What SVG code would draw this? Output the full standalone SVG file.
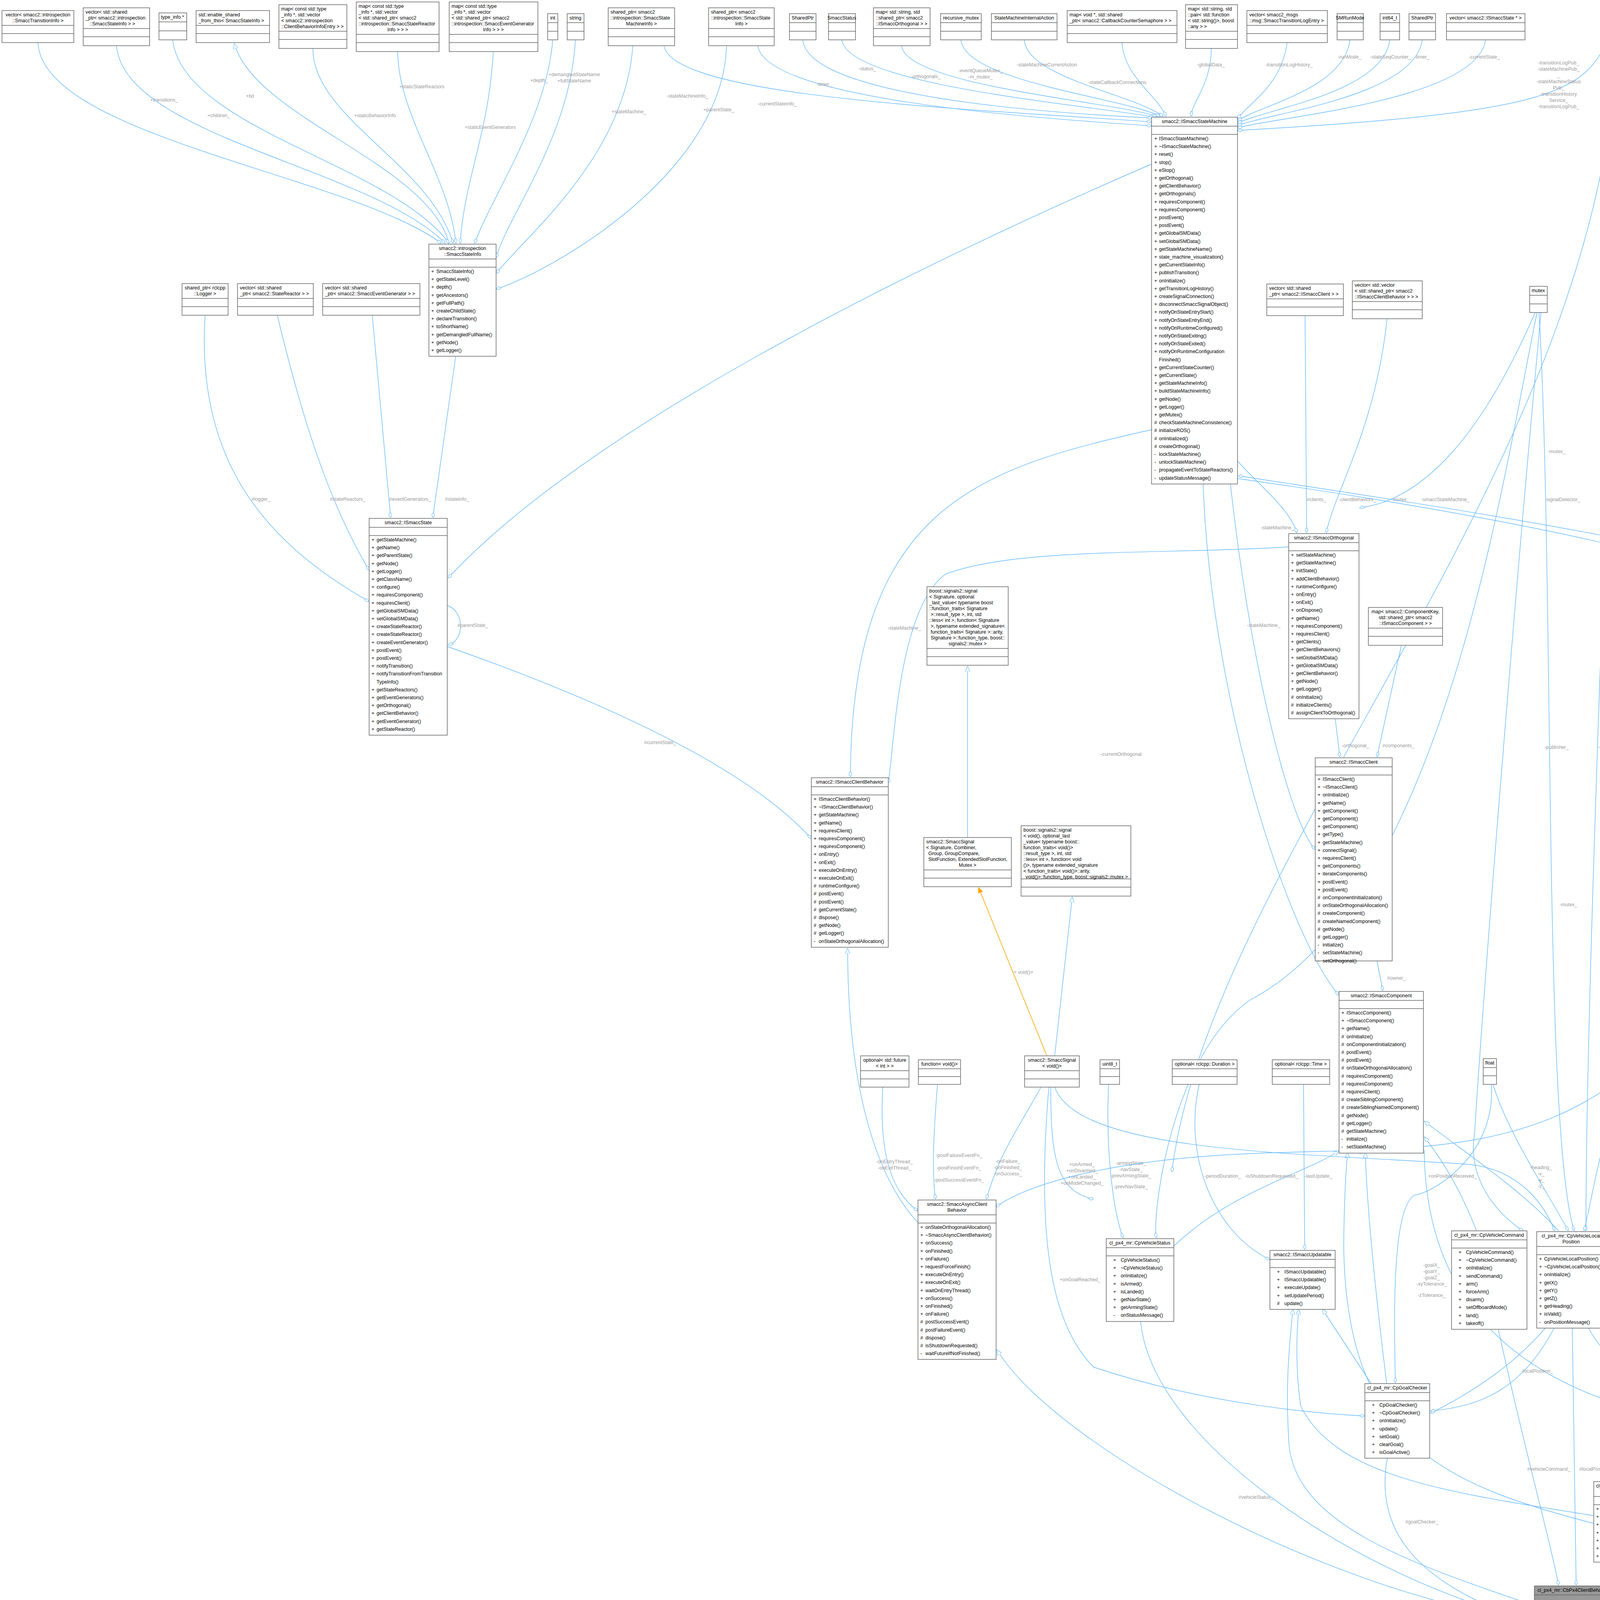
<svg xmlns="http://www.w3.org/2000/svg" width="6017" height="4253" viewBox="0 0 6017 4253">
<style>
.b{fill:#fff;stroke:#666;stroke-width:1.5}
.g{fill:#999;stroke:#666;stroke-width:1.5}
.s{fill:none;stroke:#666;stroke-width:1.5}
.t{font-family:"Liberation Sans",Arial,sans-serif;font-size:12.5px;fill:#000}
.c{text-anchor:middle}
.l{font-family:"Liberation Sans",Arial,sans-serif;font-size:12.5px;fill:#9a9a9a;text-anchor:middle}
.e{fill:none;stroke:#63b8ff;stroke-width:1.4}
.o{fill:none;stroke:#ffa500;stroke-width:1.6}
</style>
<defs>
<marker id="d" viewBox="0 0 14 8" refX="14" refY="4" markerWidth="14" markerHeight="8" markerUnits="userSpaceOnUse" orient="auto"><path d="M0,4L7,0L14,4L7,8Z" fill="#fff" stroke="#63b8ff" stroke-width="1.2"/></marker>
<marker id="t" viewBox="0 0 14 12" refX="14" refY="6" markerWidth="14" markerHeight="12" markerUnits="userSpaceOnUse" orient="auto"><path d="M0,0L14,6L0,12Z" fill="#fff" stroke="#63b8ff" stroke-width="1.2"/></marker>
<marker id="to" viewBox="0 0 14 12" refX="14" refY="6" markerWidth="14" markerHeight="12" markerUnits="userSpaceOnUse" orient="auto"><path d="M0,0L14,6L0,12Z" fill="#ffa500" stroke="#ffa500" stroke-width="1.2"/></marker>
</defs>
<rect width="6017" height="4253" fill="#fff"/>

<g id="connectors">
<!-- inheritance -->
<path class="e" marker-end="url(#t)" d="M1150,625C1100,420 650,300 600,111"/>
<path class="e" marker-end="url(#t)" d="M2477,2144L2477,1705"/>
<path class="o" marker-end="url(#to)" d="M2680,2703L2505,2272"/>
<text class="l" x="2620" y="2493">&lt; void()&gt;</text>
<path class="e" marker-end="url(#t)" d="M2700,2703L2745,2296"/>
<path class="e" marker-end="url(#t)" d="M2350,3130C2230,3000 2170,2750 2170,2427"/>
<path class="e" marker-end="url(#t)" d="M3928,4150C3400,4080 2700,3700 2552,3455"/>
<path class="e" marker-end="url(#t)" d="M3005,3190C3150,3050 3350,3000 3428,2946"/>
<path class="e" marker-end="url(#t)" d="M3780,3151C3740,3050 3700,2980 3646,2910"/>
<path class="e" marker-end="url(#t)" d="M3990,3151C3900,3050 3750,2950 3646,2870"/>
<path class="e" marker-end="url(#t)" d="M3550,3542C3520,3300 3500,3100 3495,2950"/>
<path class="e" marker-end="url(#t)" d="M4320,3640C3900,3560 3650,3350 3646,2945C3600,2940 3500,2945 3470,2950"/>
<path class="e" marker-end="url(#t)" d="M4080,3900C3700,3800 3450,3700 3440,3200 3440,3100 3445,3000 3450,2950"/>
<path class="e" marker-end="url(#t)" d="M3510,3542L3385,3351"/>
<path class="e" marker-end="url(#t)" d="M4080,3880C3700,3820 3420,3780 3330,3600 3315,3500 3320,3400 3325,3351"/>
<path class="e" marker-end="url(#t)" d="M3928,4110C3600,4000 3320,3900 3300,3700 3290,3550 3300,3450 3310,3351"/>

<!-- SmaccStateInfo members -->
<path class="e" marker-end="url(#d)" d="M97,109C110,350 900,450 1130,623"/>
<text class="l" x="420" y="260">+transitions_</text>
<path class="e" marker-end="url(#d)" d="M298,117C320,350 950,430 1140,623"/>
<text class="l" x="560" y="300">+children_</text>
<path class="e" marker-end="url(#d)" d="M442,102C470,330 1000,420 1150,623"/>
<text class="l" x="640" y="250">+tid</text>
<path class="e" marker-end="url(#d)" d="M801,124C800,300 1100,420 1160,623"/>
<text class="l" x="960" y="300">+staticBehaviorInfo</text>
<path class="e" marker-end="url(#d)" d="M1018,132C1020,300 1150,450 1167,623"/>
<text class="l" x="1080" y="226">+staticStateReactors</text>
<path class="e" marker-end="url(#d)" d="M1263,132C1250,350 1190,450 1178,623"/>
<text class="l" x="1255" y="330">+staticEventGenerators</text>
<path class="e" marker-end="url(#d)" d="M1415,102C1400,300 1260,500 1215,623"/>
<text class="l" x="1380" y="210">+depth_</text>
<path class="e" marker-end="url(#d)" d="M1473,102C1460,350 1300,550 1270,660"/>
<text class="l" x="1470" y="195">+demangledStateName</text>
<text class="l" x="1470" y="211">+fullStateName</text>
<path class="e" marker-end="url(#d)" d="M1620,117C1600,400 1350,600 1270,700"/>
<text class="l" x="1610" y="290">+stateMachine_</text>
<path class="e" marker-end="url(#d)" d="M1860,117C1850,450 1400,700 1270,740"/>
<text class="l" x="1840" y="285">+parentState_</text>

<!-- ISmaccState members -->
<path class="e" marker-end="url(#d)" d="M525,807C500,1200 700,1400 945,1540"/>
<text class="l" x="668" y="1282">#logger_</text>
<path class="e" marker-end="url(#d)" d="M710,807C780,1100 850,1300 945,1460"/>
<text class="l" x="890" y="1282">#stateReactors_</text>
<path class="e" marker-end="url(#d)" d="M953,807L1000,1325"/>
<text class="l" x="1050" y="1282">#eventGenerators_</text>
<path class="e" marker-end="url(#d)" d="M1167,909L1108,1325"/>
<text class="l" x="1170" y="1282">#stateInfo_</text>
<path class="e" marker-end="url(#d)" d="M1145,1550C1190,1565 1190,1640 1147,1651"/>
<text class="l" x="1210" y="1605">#parentState_</text>
<path class="e" marker-end="url(#d)" d="M2948,420C2300,700 1500,1100 1147,1480"/>
<path class="e" marker-end="url(#d)" d="M1145,1655C1500,1780 1900,1950 2077,2147"/>
<text class="l" x="1690" y="1905">#currentState_</text>

<!-- SM incoming -->
<path class="e" marker-end="url(#d)" d="M1700,117C1720,250 2500,280 2948,312"/>
<text class="l" x="1760" y="250">-stateMachineInfo_</text>
<path class="e" marker-end="url(#d)" d="M1940,117C1960,250 2600,300 2948,322"/>
<text class="l" x="1990" y="270">-currentStateInfo_</text>
<path class="e" marker-end="url(#d)" d="M2055,102C2070,250 2700,290 2950,302"/>
<text class="l" x="2110" y="220">-timer_</text>
<path class="e" marker-end="url(#d)" d="M2155,102C2170,220 2800,270 2955,300"/>
<text class="l" x="2220" y="180">-status_</text>
<path class="e" marker-end="url(#d)" d="M2308,117C2320,220 2850,260 2962,298"/>
<text class="l" x="2370" y="200">-orthogonals_</text>
<path class="e" marker-end="url(#d)" d="M2460,102C2470,210 2880,250 2970,298"/>
<text class="l" x="2510" y="185">-eventQueueMutex_</text>
<text class="l" x="2510" y="201">-m_mutex_</text>
<path class="e" marker-end="url(#d)" d="M2622,102C2630,200 2900,240 2978,298"/>
<text class="l" x="2680" y="170">-stateMachineCurrentAction</text>
<path class="e" marker-end="url(#d)" d="M2872,109C2880,200 2960,240 2985,298"/>
<text class="l" x="2860" y="215">-stateCallbackConnections</text>
<path class="e" marker-end="url(#d)" d="M3101,124C3100,220 3050,260 3050,298"/>
<text class="l" x="3100" y="170">-globalData_</text>
<path class="e" marker-end="url(#d)" d="M3295,109C3280,220 3200,260 3168,304"/>
<text class="l" x="3300" y="170">-transitionLogHistory_</text>
<path class="e" marker-end="url(#d)" d="M3456,102C3440,230 3220,270 3168,310"/>
<text class="l" x="3455" y="150">-runMode_</text>
<path class="e" marker-end="url(#d)" d="M3558,102C3540,240 3230,280 3168,316"/>
<text class="l" x="3560" y="150">-stateSeqCounter_</text>
<path class="e" marker-end="url(#d)" d="M3641,102C3620,250 3240,290 3168,322"/>
<text class="l" x="3640" y="150">-timer_</text>
<path class="e" marker-end="url(#d)" d="M3803,102C3780,260 3250,300 3168,328"/>
<text class="l" x="3800" y="150">-currentState_</text>
<path class="e" marker-end="url(#d)" d="M4112,110C4050,240 3950,290 3168,334"/>
<text class="l" x="3990" y="165">-transitionLogPub_</text>
<text class="l" x="3990" y="181">-stateMachinePub_</text>
<text class="l" x="3990" y="197">_</text>
<text class="l" x="3990" y="213">-stateMachineStatus</text>
<text class="l" x="3990" y="229">Pub_</text>
<text class="l" x="3990" y="245">-transitionHistory</text>
<text class="l" x="3990" y="261">Service_</text>
<text class="l" x="3990" y="277">-transitionLogPub_</text>

<!-- SM outgoing -->
<path class="e" marker-end="url(#d)" d="M2948,1100C2500,1200 2180,1300 2177,1989"/>
<text class="l" x="2315" y="1612">-stateMachine_</text>
<path class="e" marker-end="url(#d)" d="M3168,1180C3230,1250 3300,1300 3320,1364"/>
<text class="l" x="3270" y="1355">-stateMachine_</text>
<path class="e" marker-end="url(#d)" d="M3299,1400C3000,1420 2600,1400 2420,1470 2300,1560 2290,1900 2274,2005"/>
<text class="l" x="2870" y="1935">-currentOrthogonal</text>
<path class="e" marker-end="url(#d)" d="M3341,808L3345,1364"/>
<text class="l" x="3370" y="1283">#clients_</text>
<path class="e" marker-end="url(#d)" d="M3551,816C3520,1100 3420,1250 3395,1364"/>
<text class="l" x="3475" y="1283">-clientBehaviors_</text>
<path class="e" marker-end="url(#d)" d="M3930,800C3800,1100 3650,1280 3480,1300 3460,1330 3462,1364"/>
<text class="l" x="3585" y="1283">-mutex_</text>
<path class="e" marker-end="url(#d)" d="M3168,1225C3700,1300 4400,1420 4719,1590"/>
<text class="l" x="3700" y="1283">-smaccStateMachine_</text>
<path class="e" marker-end="url(#d)" d="M4719,1530C4400,1400 3700,1300 3170,1218"/>
<text class="l" x="4000" y="1283">-signalDetector_</text>
<path class="e" marker-end="url(#d)" d="M3418,1838L3430,1938"/>
<text class="l" x="3470" y="1913">-orthogonal_</text>
<path class="e" marker-end="url(#d)" d="M3588,1650L3525,1938"/>
<text class="l" x="3580" y="1913">#components_</text>
<path class="e" marker-end="url(#d)" d="M3150,1239C3200,1700 3300,2100 3367,2175"/>
<text class="l" x="3235" y="1605">-stateMachine_</text>
<path class="e" marker-end="url(#d)" d="M3525,2460L3540,2536"/>
<text class="l" x="3575" y="2508">#owner_</text>
<path class="e" marker-end="url(#d)" d="M3080,1239C3100,1800 3300,2400 3428,2548"/>

<!-- SignalDetector members -->
<path class="e" marker-end="url(#d)" d="M4425,808C4380,1100 4400,1350 4500,1320 4600,1290 4650,1350 4720,1405"/>
<text class="l" x="4580" y="1285">-updatableStateElements_</text>
<path class="e" marker-end="url(#d)" d="M4616,800C4620,1100 4680,1300 4735,1405"/>
<text class="l" x="4710" y="1285">-lastState_</text>
<path class="e" marker-end="url(#d)" d="M4720,800C4730,1100 4760,1300 4775,1405"/>
<text class="l" x="4800" y="1285">-loop_rate_hz</text>
<path class="e" marker-end="url(#d)" d="M4838,800L4840,1405"/>
<text class="l" x="4880" y="1285">-scheduler_</text>
<path class="e" marker-end="url(#d)" d="M4150,102C4600,200 4920,500 4900,1405"/>
<text class="l" x="4990" y="770">-statusPub_</text>
<path class="e" marker-end="url(#d)" d="M5112,800C5100,1200 4960,1240 4940,1405"/>
<text class="l" x="5055" y="1285">-processorHandle_</text>
<path class="e" marker-end="url(#d)" d="M5220,800C5230,1100 5200,1250 5180,1270 5070,1400 4968,1460"/>
<text class="l" x="5220" y="1285">-signalDetectorThread_</text>
<path class="e" marker-end="url(#d)" d="M5320,800C5350,1100 5300,1450 4968,1550"/>
<text class="l" x="5355" y="1285">-executionModel_</text>
<path class="e" marker-end="url(#d)" d="M5505,800C5500,1200 5300,1450 4968,1560"/>
<text class="l" x="5490" y="1285">-updatableClients_</text>
<path class="e" marker-end="url(#d)" d="M5695,800C5710,1100 5660,1220 5620,1250 5400,1350 5100,1530 4968,1568"/>
<text class="l" x="5630" y="1268">-end_</text>
<text class="l" x="5630" y="1284">-initialized_</text>
<text class="l" x="5630" y="1300">-rosInitialized_</text>
<path class="e" marker-end="url(#d)" d="M5690,800L5690,3800C5690,3950 4400,4100 4159,4135"/>

<!-- signals and async -->
<path class="e" marker-end="url(#d)" d="M2665,2783C2600,2900 2560,2950 2525,3070"/>
<text class="l" x="2580" y="2977">-onFailure_</text>
<text class="l" x="2580" y="2993">-onFinished_</text>
<text class="l" x="2580" y="3009">-onSuccess_</text>
<path class="e" marker-end="url(#d)" d="M2690,2783C2690,2950 2700,3050 2800,3070 2840,3100 2855,3169"/>
<text class="l" x="2770" y="2985">+onArmed_</text>
<text class="l" x="2770" y="3001">+onDisarmed_</text>
<text class="l" x="2770" y="3017">+onLanded_</text>
<text class="l" x="2770" y="3033">+onModeChanged_</text>
<path class="e" marker-end="url(#d)" d="M2685,2783C2650,3200 2700,3400 2800,3500 3100,3600 3400,3620 3494,3625"/>
<text class="l" x="2765" y="3280">+onGoalReached_</text>
<path class="e" marker-end="url(#d)" d="M2700,2783C2760,2950 3300,2950 3750,2980 3900,2990 3960,3100 3980,3151"/>
<text class="l" x="3718" y="3015">+onPositionReceived_</text>
<path class="e" marker-end="url(#d)" d="M2260,2783C2250,2950 2280,3050 2350,3100"/>
<text class="l" x="2290" y="2978">-onEntryThread_</text>
<text class="l" x="2290" y="2994">-onExitThread_</text>
<path class="e" marker-end="url(#d)" d="M2400,2776C2390,2900 2385,3000 2395,3070"/>
<text class="l" x="2455" y="2962">-postFailureEventFn_</text>
<text class="l" x="2455" y="2994">-postFinishEventFn_</text>
<text class="l" x="2455" y="3025">-postSuccessEventFn_</text>
<path class="e" marker-end="url(#d)" d="M2838,2776C2830,2950 2850,3100 2875,3169"/>
<text class="l" x="2895" y="2982">-armingState_</text>
<text class="l" x="2895" y="2998">-navState_</text>
<text class="l" x="2895" y="3014">-prevArmingState_</text>
<text class="l" x="2895" y="3042">-prevNavState_</text>
<path class="e" marker-end="url(#d)" d="M3070,2776C3030,2950 3100,3150 3251,3225"/>
<text class="l" x="3130" y="3015">-periodDuration_</text>
<path class="e" marker-end="url(#d)" d="M3337,2776L3340,3199"/>
<text class="l" x="3375" y="3015">-lastUpdate_</text>
<text class="l" x="3255" y="3015">-isShutdownRequested_</text>
<path class="e" marker-end="url(#d)" d="M4142,2765C3900,2950 3600,2940 3300,2950 2800,2960 2600,3050 2550,3090"/>

<!-- px4 components -->
<path class="e" marker-end="url(#d)" d="M3945,800C3880,1500 3800,2500 3775,2900 3750,3050 3880,3140 3900,3151"/>
<text class="l" x="3985" y="1917">-publisher_</text>
<path class="e" marker-end="url(#d)" d="M4140,102C4100,1200 3100,2200 3000,3000 2990,3100 3005,3185"/>
<path class="e" marker-end="url(#d)" d="M4148,102C4120,1200 4060,2500 4060,3151"/>
<text class="l" x="4125" y="1917">-subscriber_</text>
<path class="e" marker-end="url(#d)" d="M4160,102C4300,1500 4550,3000 4518,3555"/>
<text class="l" x="4500" y="2800">-publisher_</text>
<path class="e" marker-end="url(#d)" d="M3935,800C3850,1200 3700,2300 3200,2560 3000,2700 2950,3100 2960,3169"/>
<text class="l" x="3985" y="1160">-mutex_</text>
<path class="e" marker-end="url(#d)" d="M3940,800C3980,1500 3950,2900 4030,3151"/>
<text class="l" x="4015" y="2320">-mutex_</text>
<path class="e" marker-end="url(#d)" d="M4158,2776C4100,2900 4080,3050 4055,3151"/>
<text class="l" x="4120" y="3011">-valid_</text>
<path class="e" marker-end="url(#d)" d="M4170,2776C4250,3100 4350,3350 4200,3450 4150,3500 4160,3700 4160,3791"/>
<text class="l" x="4190" y="3510">-enabled_</text>
<path class="e" marker-end="url(#d)" d="M4150,2776C4150,3200 4000,3450 3662,3618"/>
<text class="l" x="4195" y="3277">-goalActive_</text>
<path class="e" marker-end="url(#d)" d="M4175,2770C4400,3000 4450,3300 4450,3540"/>
<text class="l" x="4510" y="3277">-hasPublished_</text>
<path class="e" marker-end="url(#d)" d="M3822,2776C3860,2900 3960,3050 4015,3151"/>
<text class="l" x="3945" y="2993">-heading_</text>
<text class="l" x="3945" y="3009">-x_</text>
<text class="l" x="3945" y="3025">-y_</text>
<text class="l" x="3945" y="3041">-z_</text>
<path class="e" marker-end="url(#d)" d="M3818,2776C3830,2950 3680,3050 3620,3060 3560,3100 3570,3400 3572,3540"/>
<text class="l" x="3665" y="3243">-goalX_</text>
<text class="l" x="3665" y="3259">-goalY_</text>
<text class="l" x="3665" y="3275">-goalZ_</text>
<text class="l" x="3665" y="3291">-xyTolerance_</text>
<text class="l" x="3665" y="3320">-zTolerance_</text>
<path class="e" marker-end="url(#d)" d="M4362,3309L4373,3540"/>
<text class="l" x="4412" y="3514">-lastSetpoint_</text>
<path class="e" marker-end="url(#d)" d="M3980,3397C3900,3550 3800,3600 3662,3612"/>
<text class="l" x="3935" y="3514">-localPosition_</text>
<path class="e" marker-end="url(#d)" d="M4065,3397C4120,3500 4200,3520 4250,3530 4300,3550 4320,3560"/>
<text class="l" x="4290" y="3514">-localPosition_</text>
<path class="e" marker-end="url(#d)" d="M4325,3730L4252,3805"/>
<text class="l" x="4365" y="3765">-trajectorySetpoint_</text>
<path class="e" marker-end="url(#d)" d="M3835,3400C3900,3700 3970,3950 3990,4058"/>
<text class="l" x="3965" y="3765">#vehicleCommand_</text>
<path class="e" marker-end="url(#d)" d="M4025,3397L4035,4058"/>
<text class="l" x="4085" y="3765">#localPosition_</text>
<path class="e" marker-end="url(#d)" d="M4425,3730C4400,3900 4300,4000 4159,4090"/>
<text class="l" x="4475" y="3900">#trajectorySetpoint_</text>
<path class="e" marker-end="url(#d)" d="M3552,3730C3520,3900 3600,4050 3928,4155"/>
<text class="l" x="3640" y="3900">#goalChecker_</text>
<path class="e" marker-end="url(#d)" d="M2920,3383C2950,3700 3500,4050 3928,4150"/>
<text class="l" x="3215" y="3837">#vehicleStatus_</text>
<path class="e" marker-end="url(#d)" d="M4120,3999L4100,4058"/>
<text class="l" x="4185" y="4030">#offboardKeepAlive_</text>
<path class="e" marker-end="url(#d)" d="M5795,3941C5780,4100 4500,4150 4159,4160"/>
<text class="l" x="5745" y="4040">-timeout_</text>
<path class="e" marker-end="url(#d)" d="M5947,3952C5930,4150 4500,4170 4159,4168"/>
<text class="l" x="5900" y="4040">-startTime_</text>
</g>

<!-- top row -->
<g id="n_transinfo"><rect class="b" x="5" y="27" width="184" height="82"/><path class="s" d="M5,65H189M5,86H189"/><text class="t c" x="97" y="42">vector&lt; smacc2::introspection<tspan x="97" dy="15">::SmaccTransitionInfo &gt;</tspan></text></g>
<g id="n_children"><rect class="b" x="213" y="20" width="170" height="97"/><path class="s" d="M213,73H383M213,94H383"/><text class="t" x="219" y="35">vector&lt; std::shared<tspan x="219" dy="15">_ptr&lt; smacc2::introspection</tspan><tspan x="229" dy="15">::SmaccStateInfo &gt; &gt;</tspan></text></g>
<g id="n_typeinfo"><rect class="b" x="407" y="33" width="71" height="69"/><path class="s" d="M407,56H478M407,79H478"/><text class="t" x="412" y="48">type_info *</text></g>
<g id="n_enable"><rect class="b" x="502" y="27" width="188" height="82"/><path class="s" d="M502,65H690M502,86H690"/><text class="t" x="508" y="42">std::enable_shared<tspan x="508" dy="15">_from_this&lt; SmaccStateInfo &gt;</tspan></text></g>
<g id="n_mapcb"><rect class="b" x="714" y="12" width="174" height="112"/><path class="s" d="M714,80H888M714,101H888"/><text class="t" x="720" y="27">map&lt; const std::type<tspan x="720" dy="15">_info *, std::vector</tspan><tspan x="720" dy="15">&lt; smacc2::introspection</tspan><tspan x="720" dy="15">::ClientBehaviorInfoEntry &gt; &gt;</tspan></text></g>
<g id="n_mapsr"><rect class="b" x="912" y="5" width="212" height="127"/><path class="s" d="M912,88H1124M912,109H1124"/><text class="t" x="918" y="20">map&lt; const std::type<tspan x="918" dy="15">_info *, std::vector</tspan><tspan x="918" dy="15">&lt; std::shared_ptr&lt; smacc2</tspan><tspan x="918" dy="15">::introspection::SmaccStateReactor</tspan><tspan x="1018" dy="15" text-anchor="middle">Info &gt; &gt; &gt;</tspan></text></g>
<g id="n_mapeg"><rect class="b" x="1150" y="5" width="227" height="127"/><path class="s" d="M1150,88H1377M1150,109H1377"/><text class="t" x="1156" y="20">map&lt; const std::type<tspan x="1156" dy="15">_info *, std::vector</tspan><tspan x="1156" dy="15">&lt; std::shared_ptr&lt; smacc2</tspan><tspan x="1156" dy="15">::introspection::SmaccEventGenerator</tspan><tspan x="1263" dy="15" text-anchor="middle">Info &gt; &gt; &gt;</tspan></text></g>
<g id="n_int"><rect class="b" x="1402" y="35" width="26" height="67"/><path class="s" d="M1402,58H1428M1402,80H1428"/><text class="t c" x="1415" y="50">int</text></g>
<g id="n_string"><rect class="b" x="1452" y="35" width="43" height="67"/><path class="s" d="M1452,58H1495M1452,80H1495"/><text class="t c" x="1473" y="50">string</text></g>
<g id="n_smi"><rect class="b" x="1557" y="20" width="170" height="97"/><path class="s" d="M1557,73H1727M1557,94H1727"/><text class="t" x="1563" y="35">shared_ptr&lt; smacc2<tspan x="1563" dy="15">::introspection::SmaccState</tspan><tspan x="1642" dy="15" text-anchor="middle">MachineInfo &gt;</tspan></text></g>
<g id="n_ssi"><rect class="b" x="1814" y="20" width="168" height="97"/><path class="s" d="M1814,73H1982M1814,94H1982"/><text class="t" x="1820" y="35">shared_ptr&lt; smacc2<tspan x="1820" dy="15">::introspection::SmaccState</tspan><tspan x="1898" dy="15" text-anchor="middle">Info &gt;</tspan></text></g>
<g id="n_sp1"><rect class="b" x="2021" y="35" width="68" height="67"/><path class="s" d="M2021,58H2089M2021,80H2089"/><text class="t c" x="2055" y="50">SharedPtr</text></g>
<g id="n_status"><rect class="b" x="2121" y="35" width="69" height="67"/><path class="s" d="M2121,58H2190M2121,80H2190"/><text class="t c" x="2155" y="50">SmaccStatus</text></g>
<g id="n_maporth"><rect class="b" x="2236" y="20" width="145" height="97"/><path class="s" d="M2236,73H2381M2236,94H2381"/><text class="t" x="2242" y="35">map&lt; std::string, std<tspan x="2242" dy="15">::shared_ptr&lt; smacc2</tspan><tspan x="2242" dy="15">::ISmaccOrthogonal &gt; &gt;</tspan></text></g>
<g id="n_rmutex"><rect class="b" x="2408" y="35" width="104" height="67"/><path class="s" d="M2408,58H2512M2408,80H2512"/><text class="t c" x="2460" y="50">recursive_mutex</text></g>
<g id="n_action"><rect class="b" x="2538" y="35" width="168" height="67"/><path class="s" d="M2538,58H2706M2538,80H2706"/><text class="t c" x="2622" y="50">StateMachineInternalAction</text></g>
<g id="n_mapcc"><rect class="b" x="2732" y="27" width="281" height="82"/><path class="s" d="M2732,65H3013M2732,86H3013"/><text class="t" x="2738" y="42">map&lt; void *, std::shared<tspan x="2738" dy="15">_ptr&lt; smacc2::CallbackCounterSemaphore &gt; &gt;</tspan></text></g>
<g id="n_mapgd"><rect class="b" x="3035" y="12" width="133" height="112"/><path class="s" d="M3035,80H3168M3035,101H3168"/><text class="t" x="3041" y="27">map&lt; std::string, std<tspan x="3041" dy="15">::pair&lt; std::function</tspan><tspan x="3041" dy="15">&lt; std::string()&gt;, boost</tspan><tspan x="3041" dy="15">::any &gt; &gt;</tspan></text></g>
<g id="n_vlog"><rect class="b" x="3192" y="27" width="206" height="82"/><path class="s" d="M3192,65H3398M3192,86H3398"/><text class="t" x="3198" y="42">vector&lt; smacc2_msgs<tspan x="3198" dy="15">::msg::SmaccTransitionLogEntry &gt;</tspan></text></g>
<g id="n_runmode"><rect class="b" x="3423" y="35" width="67" height="67"/><path class="s" d="M3423,58H3490M3423,80H3490"/><text class="t c" x="3456" y="50">SMRunMode</text></g>
<g id="n_int64"><rect class="b" x="3533" y="35" width="50" height="67"/><path class="s" d="M3533,58H3583M3533,80H3583"/><text class="t c" x="3558" y="50">int64_t</text></g>
<g id="n_sp2"><rect class="b" x="3607" y="35" width="68" height="67"/><path class="s" d="M3607,58H3675M3607,80H3675"/><text class="t c" x="3641" y="50">SharedPtr</text></g>
<g id="n_vstate"><rect class="b" x="3703" y="35" width="201" height="67"/><path class="s" d="M3703,58H3904M3703,80H3904"/><text class="t c" x="3803" y="50">vector&lt; smacc2::ISmaccState * &gt;</text></g>
<g id="n_sp3"><rect class="b" x="4112" y="34" width="69" height="68"/><path class="s" d="M4112,57H4181M4112,80H4181"/><text class="t c" x="4146" y="49">SharedPtr</text></g>

<!-- second row -->
<g id="n_logger"><rect class="b" x="466" y="726" width="118" height="81"/><path class="s" d="M466,764H584M466,785H584"/><text class="t c" x="525" y="741">shared_ptr&lt; rclcpp<tspan x="525" dy="15">::Logger &gt;</tspan></text></g>
<g id="n_vsr"><rect class="b" x="608" y="726" width="194" height="81"/><path class="s" d="M608,764H802M608,785H802"/><text class="t" x="614" y="741">vector&lt; std::shared<tspan x="614" dy="15">_ptr&lt; smacc2::StateReactor &gt; &gt;</tspan></text></g>
<g id="n_veg"><rect class="b" x="826" y="726" width="249" height="81"/><path class="s" d="M826,764H1075M826,785H1075"/><text class="t" x="832" y="741">vector&lt; std::shared<tspan x="832" dy="15">_ptr&lt; smacc2::SmaccEventGenerator &gt; &gt;</tspan></text></g>
<g id="n_vclients"><rect class="b" x="3243" y="727" width="196" height="81"/><path class="s" d="M3243,765H3439M3243,786H3439"/><text class="t" x="3249" y="742">vector&lt; std::shared<tspan x="3249" dy="15">_ptr&lt; smacc2::ISmaccClient &gt; &gt;</tspan></text></g>
<g id="n_vcb"><rect class="b" x="3462" y="719" width="179" height="97"/><path class="s" d="M3462,772H3641M3462,793H3641"/><text class="t" x="3468" y="734">vector&lt; std::vector<tspan x="3468" dy="15">&lt; std::shared_ptr&lt; smacc2</tspan><tspan x="3468" dy="15">::ISmaccClientBehavior &gt; &gt; &gt;</tspan></text></g>
<g id="n_mutex"><rect class="b" x="3916" y="733" width="45" height="67"/><path class="s" d="M3916,756H3961M3916,778H3961"/><text class="t c" x="3938" y="748">mutex</text></g>
<g id="n_vvupd"><rect class="b" x="4330" y="726" width="207" height="82"/><path class="s" d="M4330,764H4537M4330,785H4537"/><text class="t" x="4336" y="741">vector&lt; std::vector<tspan x="4336" dy="15">&lt; smacc2::ISmaccUpdatable * &gt; &gt;</tspan></text></g>
<g id="n_ai64"><rect class="b" x="4560" y="734" width="111" height="66"/><path class="s" d="M4560,757H4671M4560,778H4671"/><text class="t c" x="4615" y="749">atomic&lt; int64_t &gt;</text></g>
<g id="n_double"><rect class="b" x="4695" y="734" width="49" height="66"/><path class="s" d="M4695,757H4744M4695,778H4744"/><text class="t c" x="4720" y="749">double</text></g>
<g id="n_fifo"><rect class="b" x="4769" y="734" width="139" height="66"/><path class="s" d="M4769,757H4908M4769,778H4908"/><text class="t c" x="4838" y="749">SmaccFifoScheduler *</text></g>
<g id="n_proc"><rect class="b" x="5053" y="734" width="112" height="66"/><path class="s" d="M5053,757H5165M5053,778H5165"/><text class="t c" x="5109" y="749">processor_handle</text></g>
<g id="n_thread"><rect class="b" x="5190" y="734" width="47" height="66"/><path class="s" d="M5190,757H5237M5190,778H5237"/><text class="t c" x="5213" y="749">thread</text></g>
<g id="n_exec"><rect class="b" x="5261" y="734" width="102" height="66"/><path class="s" d="M5261,757H5363M5261,778H5363"/><text class="t c" x="5312" y="749">ExecutionModel</text></g>
<g id="n_vupd"><rect class="b" x="5386" y="734" width="233" height="66"/><path class="s" d="M5386,757H5619M5386,778H5619"/><text class="t c" x="5502" y="749">vector&lt; smacc2::ISmaccUpdatable * &gt;</text></g>
<g id="n_abool"><rect class="b" x="5643" y="734" width="95" height="66"/><path class="s" d="M5643,757H5738M5643,778H5738"/><text class="t c" x="5690" y="749">atomic&lt; bool &gt;</text></g>

<!-- SmaccStateInfo -->
<g id="n_stateinfo"><rect class="b" x="1098" y="625" width="172" height="287"/><path class="s" d="M1098,663H1270M1098,684H1270"/><text class="t c" x="1184" y="640">smacc2::introspection<tspan x="1184" dy="15">::SmaccStateInfo</tspan></text>
<text class="t" x="1104" y="699">+<tspan x="1104" dy="20.2">+</tspan><tspan x="1104" dy="20.2">+</tspan><tspan x="1104" dy="20.2">+</tspan><tspan x="1104" dy="20.2">+</tspan><tspan x="1104" dy="20.2">+</tspan><tspan x="1104" dy="20.2">+</tspan><tspan x="1104" dy="20.2">+</tspan><tspan x="1104" dy="20.2">+</tspan><tspan x="1104" dy="20.2">+</tspan><tspan x="1104" dy="20.2">+</tspan></text>
<text class="t" x="1117" y="699">SmaccStateInfo()<tspan x="1117" dy="20.2">getStateLevel()</tspan><tspan x="1117" dy="20.2">depth()</tspan><tspan x="1117" dy="20.2">getAncestors()</tspan><tspan x="1117" dy="20.2">getFullPath()</tspan><tspan x="1117" dy="20.2">createChildState()</tspan><tspan x="1117" dy="20.2">declareTransition()</tspan><tspan x="1117" dy="20.2">toShortName()</tspan><tspan x="1117" dy="20.2">getDemangledFullName()</tspan><tspan x="1117" dy="20.2">getNode()</tspan><tspan x="1117" dy="20.2">getLogger()</tspan></text></g>

<!-- ISmaccState -->
<g id="n_state"><rect class="b" x="945" y="1327" width="200" height="555"/><path class="s" d="M945,1350H1145M945,1371H1145"/><text class="t c" x="1045" y="1342">smacc2::ISmaccState</text>
<text class="t" x="951" y="1386">+<tspan x="951" dy="20.2">+</tspan><tspan x="951" dy="20.2">+</tspan><tspan x="951" dy="20.2">+</tspan><tspan x="951" dy="20.2">+</tspan><tspan x="951" dy="20.2">+</tspan><tspan x="951" dy="20.2">+</tspan><tspan x="951" dy="20.2">+</tspan><tspan x="951" dy="20.2">+</tspan><tspan x="951" dy="20.2">+</tspan><tspan x="951" dy="20.2">+</tspan><tspan x="951" dy="20.2">+</tspan><tspan x="951" dy="20.2">+</tspan><tspan x="951" dy="20.2">+</tspan><tspan x="951" dy="20.2">+</tspan><tspan x="951" dy="20.2">+</tspan><tspan x="951" dy="20.2">+</tspan><tspan x="951" dy="20.2">+</tspan><tspan x="951" dy="40.4">+</tspan><tspan x="951" dy="20.2">+</tspan><tspan x="951" dy="20.2">+</tspan><tspan x="951" dy="20.2">+</tspan><tspan x="951" dy="20.2">+</tspan><tspan x="951" dy="20.2">+</tspan></text>
<text class="t" x="964" y="1386">getStateMachine()<tspan x="964" dy="20.2">getName()</tspan><tspan x="964" dy="20.2">getParentState()</tspan><tspan x="964" dy="20.2">getNode()</tspan><tspan x="964" dy="20.2">getLogger()</tspan><tspan x="964" dy="20.2">getClassName()</tspan><tspan x="964" dy="20.2">configure()</tspan><tspan x="964" dy="20.2">requiresComponent()</tspan><tspan x="964" dy="20.2">requiresClient()</tspan><tspan x="964" dy="20.2">getGlobalSMData()</tspan><tspan x="964" dy="20.2">setGlobalSMData()</tspan><tspan x="964" dy="20.2">createStateReactor()</tspan><tspan x="964" dy="20.2">createStateReactor()</tspan><tspan x="964" dy="20.2">createEventGenerator()</tspan><tspan x="964" dy="20.2">postEvent()</tspan><tspan x="964" dy="20.2">postEvent()</tspan><tspan x="964" dy="20.2">notifyTransition()</tspan><tspan x="964" dy="20.2">notifyTransitionFromTransition</tspan><tspan x="964" dy="20.2">TypeInfo()</tspan><tspan x="964" dy="20.2">getStateReactors()</tspan><tspan x="964" dy="20.2">getEventGenerators()</tspan><tspan x="964" dy="20.2">getOrthogonal()</tspan><tspan x="964" dy="20.2">getClientBehavior()</tspan><tspan x="964" dy="20.2">getEventGenerator()</tspan><tspan x="964" dy="20.2">getStateReactor()</tspan></text></g>

<!-- ISmaccStateMachine -->
<g id="n_sm"><rect class="b" x="2948" y="300" width="220" height="939"/><path class="s" d="M2948,323H3168M2948,344H3168"/><text class="t c" x="3058" y="315">smacc2::ISmaccStateMachine</text>
<text class="t" x="2955" y="359">+<tspan x="2955" dy="20.2">+</tspan><tspan x="2955" dy="20.2">+</tspan><tspan x="2955" dy="20.2">+</tspan><tspan x="2955" dy="20.2">+</tspan><tspan x="2955" dy="20.2">+</tspan><tspan x="2955" dy="20.2">+</tspan><tspan x="2955" dy="20.2">+</tspan><tspan x="2955" dy="20.2">+</tspan><tspan x="2955" dy="20.2">+</tspan><tspan x="2955" dy="20.2">+</tspan><tspan x="2955" dy="20.2">+</tspan><tspan x="2955" dy="20.2">+</tspan><tspan x="2955" dy="20.2">+</tspan><tspan x="2955" dy="20.2">+</tspan><tspan x="2955" dy="20.2">+</tspan><tspan x="2955" dy="20.2">+</tspan><tspan x="2955" dy="20.2">+</tspan><tspan x="2955" dy="20.2">+</tspan><tspan x="2955" dy="20.2">+</tspan><tspan x="2955" dy="20.2">+</tspan><tspan x="2955" dy="20.2">+</tspan><tspan x="2955" dy="20.2">+</tspan><tspan x="2955" dy="20.2">+</tspan><tspan x="2955" dy="20.2">+</tspan><tspan x="2955" dy="20.2">+</tspan><tspan x="2955" dy="20.2">+</tspan><tspan x="2955" dy="20.2">+</tspan><tspan x="2955" dy="40.4">+</tspan><tspan x="2955" dy="20.2">+</tspan><tspan x="2955" dy="20.2">+</tspan><tspan x="2955" dy="20.2">+</tspan><tspan x="2955" dy="20.2">+</tspan><tspan x="2955" dy="20.2">+</tspan><tspan x="2955" dy="20.2">+</tspan><tspan x="2955" dy="20.2">#</tspan><tspan x="2955" dy="20.2">#</tspan><tspan x="2955" dy="20.2">#</tspan><tspan x="2955" dy="20.2">#</tspan><tspan x="2955" dy="20.2">-</tspan><tspan x="2955" dy="20.2">-</tspan><tspan x="2955" dy="20.2">-</tspan><tspan x="2955" dy="20.2">-</tspan></text>
<text class="t" x="2967" y="359">ISmaccStateMachine()<tspan x="2967" dy="20.2">~ISmaccStateMachine()</tspan><tspan x="2967" dy="20.2">reset()</tspan><tspan x="2967" dy="20.2">stop()</tspan><tspan x="2967" dy="20.2">eStop()</tspan><tspan x="2967" dy="20.2">getOrthogonal()</tspan><tspan x="2967" dy="20.2">getClientBehavior()</tspan><tspan x="2967" dy="20.2">getOrthogonals()</tspan><tspan x="2967" dy="20.2">requiresComponent()</tspan><tspan x="2967" dy="20.2">requiresComponent()</tspan><tspan x="2967" dy="20.2">postEvent()</tspan><tspan x="2967" dy="20.2">postEvent()</tspan><tspan x="2967" dy="20.2">getGlobalSMData()</tspan><tspan x="2967" dy="20.2">setGlobalSMData()</tspan><tspan x="2967" dy="20.2">getStateMachineName()</tspan><tspan x="2967" dy="20.2">state_machine_visualization()</tspan><tspan x="2967" dy="20.2">getCurrentStateInfo()</tspan><tspan x="2967" dy="20.2">publishTransition()</tspan><tspan x="2967" dy="20.2">onInitialize()</tspan><tspan x="2967" dy="20.2">getTransitionLogHistory()</tspan><tspan x="2967" dy="20.2">createSignalConnection()</tspan><tspan x="2967" dy="20.2">disconnectSmaccSignalObject()</tspan><tspan x="2967" dy="20.2">notifyOnStateEntryStart()</tspan><tspan x="2967" dy="20.2">notifyOnStateEntryEnd()</tspan><tspan x="2967" dy="20.2">notifyOnRuntimeConfigured()</tspan><tspan x="2967" dy="20.2">notifyOnStateExiting()</tspan><tspan x="2967" dy="20.2">notifyOnStateExited()</tspan><tspan x="2967" dy="20.2">notifyOnRuntimeConfiguration</tspan><tspan x="2967" dy="20.2">Finished()</tspan><tspan x="2967" dy="20.2">getCurrentStateCounter()</tspan><tspan x="2967" dy="20.2">getCurrentState()</tspan><tspan x="2967" dy="20.2">getStateMachineInfo()</tspan><tspan x="2967" dy="20.2">buildStateMachineInfo()</tspan><tspan x="2967" dy="20.2">getNode()</tspan><tspan x="2967" dy="20.2">getLogger()</tspan><tspan x="2967" dy="20.2">getMutex()</tspan><tspan x="2967" dy="20.2">checkStateMachineConsistence()</tspan><tspan x="2967" dy="20.2">initializeROS()</tspan><tspan x="2967" dy="20.2">onInitialized()</tspan><tspan x="2967" dy="20.2">createOrthogonal()</tspan><tspan x="2967" dy="20.2">lockStateMachine()</tspan><tspan x="2967" dy="20.2">unlockStateMachine()</tspan><tspan x="2967" dy="20.2">propagateEventToStateReactors()</tspan><tspan x="2967" dy="20.2">updateStatusMessage()</tspan></text></g>

<!-- ISmaccOrthogonal -->
<g id="n_orth"><rect class="b" x="3299" y="1366" width="180" height="474"/><path class="s" d="M3299,1389H3479M3299,1410H3479"/><text class="t c" x="3389" y="1381">smacc2::ISmaccOrthogonal</text>
<text class="t" x="3305" y="1425">+<tspan x="3305" dy="20.2">+</tspan><tspan x="3305" dy="20.2">+</tspan><tspan x="3305" dy="20.2">+</tspan><tspan x="3305" dy="20.2">+</tspan><tspan x="3305" dy="20.2">+</tspan><tspan x="3305" dy="20.2">+</tspan><tspan x="3305" dy="20.2">+</tspan><tspan x="3305" dy="20.2">+</tspan><tspan x="3305" dy="20.2">+</tspan><tspan x="3305" dy="20.2">+</tspan><tspan x="3305" dy="20.2">+</tspan><tspan x="3305" dy="20.2">+</tspan><tspan x="3305" dy="20.2">+</tspan><tspan x="3305" dy="20.2">+</tspan><tspan x="3305" dy="20.2">+</tspan><tspan x="3305" dy="20.2">+</tspan><tspan x="3305" dy="20.2">+</tspan><tspan x="3305" dy="20.2">#</tspan><tspan x="3305" dy="20.2">#</tspan><tspan x="3305" dy="20.2">#</tspan></text>
<text class="t" x="3318" y="1425">setStateMachine()<tspan x="3318" dy="20.2">getStateMachine()</tspan><tspan x="3318" dy="20.2">initState()</tspan><tspan x="3318" dy="20.2">addClientBehavior()</tspan><tspan x="3318" dy="20.2">runtimeConfigure()</tspan><tspan x="3318" dy="20.2">onEntry()</tspan><tspan x="3318" dy="20.2">onExit()</tspan><tspan x="3318" dy="20.2">onDispose()</tspan><tspan x="3318" dy="20.2">getName()</tspan><tspan x="3318" dy="20.2">requiresComponent()</tspan><tspan x="3318" dy="20.2">requiresClient()</tspan><tspan x="3318" dy="20.2">getClients()</tspan><tspan x="3318" dy="20.2">getClientBehaviors()</tspan><tspan x="3318" dy="20.2">setGlobalSMData()</tspan><tspan x="3318" dy="20.2">getGlobalSMData()</tspan><tspan x="3318" dy="20.2">getClientBehavior()</tspan><tspan x="3318" dy="20.2">getNode()</tspan><tspan x="3318" dy="20.2">getLogger()</tspan><tspan x="3318" dy="20.2">onInitialize()</tspan><tspan x="3318" dy="20.2">initializeClients()</tspan><tspan x="3318" dy="20.2">assignClientToOrthogonal()</tspan></text></g>

<g id="n_mapck"><rect class="b" x="3503" y="1555" width="190" height="97"/><path class="s" d="M3503,1608H3693M3503,1629H3693"/><text class="t c" x="3598" y="1570">map&lt; smacc2::ComponentKey,<tspan x="3598" dy="15">std::shared_ptr&lt; smacc2</tspan><tspan x="3598" dy="15">::ISmaccComponent &gt; &gt;</tspan></text></g>

<!-- signals -->
<g id="n_boostsig"><rect class="b" x="2373" y="1502" width="208" height="201"/><path class="s" d="M2373,1660H2581M2373,1681H2581"/><text class="t" x="2379" y="1517">boost::signals2::signal<tspan x="2379" dy="15">&lt; Signature, optional</tspan><tspan x="2379" dy="15">_last_value&lt; typename boost</tspan><tspan x="2379" dy="15">::function_traits&lt; Signature</tspan><tspan x="2379" dy="15"> &gt;::result_type &gt;, int, std</tspan><tspan x="2379" dy="15">::less&lt; int &gt;, function&lt; Signature</tspan><tspan x="2379" dy="15"> &gt;, typename extended_signature&lt;</tspan><tspan x="2379" dy="15"> function_traits&lt; Signature &gt;::arity,</tspan><tspan x="2379" dy="15"> Signature &gt;::function_type, boost::</tspan><tspan x="2477" dy="15" text-anchor="middle">signals2::mutex &gt;</tspan></text></g>
<g id="n_sigtpl"><rect class="b" x="2365" y="2144" width="224" height="126"/><path class="s" d="M2365,2227H2589M2365,2248H2589"/><text class="t" x="2371" y="2159">smacc2::SmaccSignal<tspan x="2371" dy="15">&lt; Signature, Combiner,</tspan><tspan x="2373" dy="15"> Group, GroupCompare,</tspan><tspan x="2373" dy="15"> SlotFunction, ExtendedSlotFunction,</tspan><tspan x="2477" dy="15" text-anchor="middle">Mutex &gt;</tspan></text></g>
<g id="n_boostvoid"><rect class="b" x="2614" y="2114" width="281" height="180"/><path class="s" d="M2614,2250H2895M2614,2271H2895"/><text class="t" x="2620" y="2129">boost::signals2::signal<tspan x="2620" dy="15">&lt; void(), optional_last</tspan><tspan x="2620" dy="15">_value&lt; typename boost::</tspan><tspan x="2620" dy="15">function_traits&lt; void()&gt;</tspan><tspan x="2620" dy="15">::result_type &gt;, int, std</tspan><tspan x="2620" dy="15">::less&lt; int &gt;, function&lt; void</tspan><tspan x="2620" dy="15">()&gt;, typename extended_signature</tspan><tspan x="2620" dy="15">&lt; function_traits&lt; void()&gt;::arity,</tspan><tspan x="2622" dy="15"> void()&gt;::function_type, boost::signals2::mutex &gt;</tspan></text></g>

<!-- ISmaccClientBehavior -->
<g id="n_cb"><rect class="b" x="2077" y="1991" width="197" height="434"/><path class="s" d="M2077,2014H2274M2077,2035H2274"/><text class="t c" x="2175" y="2006">smacc2::ISmaccClientBehavior</text>
<text class="t" x="2083" y="2050">+<tspan x="2083" dy="20.2">+</tspan><tspan x="2083" dy="20.2">+</tspan><tspan x="2083" dy="20.2">+</tspan><tspan x="2083" dy="20.2">+</tspan><tspan x="2083" dy="20.2">+</tspan><tspan x="2083" dy="20.2">+</tspan><tspan x="2083" dy="20.2">+</tspan><tspan x="2083" dy="20.2">+</tspan><tspan x="2083" dy="20.2">+</tspan><tspan x="2083" dy="20.2">+</tspan><tspan x="2083" dy="20.2">#</tspan><tspan x="2083" dy="20.2">#</tspan><tspan x="2083" dy="20.2">#</tspan><tspan x="2083" dy="20.2">#</tspan><tspan x="2083" dy="20.2">#</tspan><tspan x="2083" dy="20.2">#</tspan><tspan x="2083" dy="20.2">#</tspan><tspan x="2083" dy="20.2">-</tspan></text>
<text class="t" x="2096" y="2050">ISmaccClientBehavior()<tspan x="2096" dy="20.2">~ISmaccClientBehavior()</tspan><tspan x="2096" dy="20.2">getStateMachine()</tspan><tspan x="2096" dy="20.2">getName()</tspan><tspan x="2096" dy="20.2">requiresClient()</tspan><tspan x="2096" dy="20.2">requiresComponent()</tspan><tspan x="2096" dy="20.2">requiresComponent()</tspan><tspan x="2096" dy="20.2">onEntry()</tspan><tspan x="2096" dy="20.2">onExit()</tspan><tspan x="2096" dy="20.2">executeOnEntry()</tspan><tspan x="2096" dy="20.2">executeOnExit()</tspan><tspan x="2096" dy="20.2">runtimeConfigure()</tspan><tspan x="2096" dy="20.2">postEvent()</tspan><tspan x="2096" dy="20.2">postEvent()</tspan><tspan x="2096" dy="20.2">getCurrentState()</tspan><tspan x="2096" dy="20.2">dispose()</tspan><tspan x="2096" dy="20.2">getNode()</tspan><tspan x="2096" dy="20.2">getLogger()</tspan><tspan x="2096" dy="20.2">onStateOrthogonalAllocation()</tspan></text></g>

<!-- ISmaccClient -->
<g id="n_client"><rect class="b" x="3367" y="1940" width="197" height="520"/><path class="s" d="M3367,1963H3564M3367,1984H3564"/><text class="t c" x="3465" y="1955">smacc2::ISmaccClient</text>
<text class="t" x="3373" y="1999">+<tspan x="3373" dy="20.2">+</tspan><tspan x="3373" dy="20.2">+</tspan><tspan x="3373" dy="20.2">+</tspan><tspan x="3373" dy="20.2">+</tspan><tspan x="3373" dy="20.2">+</tspan><tspan x="3373" dy="20.2">+</tspan><tspan x="3373" dy="20.2">+</tspan><tspan x="3373" dy="20.2">+</tspan><tspan x="3373" dy="20.2">+</tspan><tspan x="3373" dy="20.2">+</tspan><tspan x="3373" dy="20.2">+</tspan><tspan x="3373" dy="20.2">+</tspan><tspan x="3373" dy="20.2">+</tspan><tspan x="3373" dy="20.2">+</tspan><tspan x="3373" dy="20.2">#</tspan><tspan x="3373" dy="20.2">#</tspan><tspan x="3373" dy="20.2">#</tspan><tspan x="3373" dy="20.2">#</tspan><tspan x="3373" dy="20.2">#</tspan><tspan x="3373" dy="20.2">#</tspan><tspan x="3373" dy="20.2">-</tspan><tspan x="3373" dy="20.2">-</tspan><tspan x="3373" dy="20.2">-</tspan></text>
<text class="t" x="3386" y="1999">ISmaccClient()<tspan x="3386" dy="20.2">~ISmaccClient()</tspan><tspan x="3386" dy="20.2">onInitialize()</tspan><tspan x="3386" dy="20.2">getName()</tspan><tspan x="3386" dy="20.2">getComponent()</tspan><tspan x="3386" dy="20.2">getComponent()</tspan><tspan x="3386" dy="20.2">getComponent()</tspan><tspan x="3386" dy="20.2">getType()</tspan><tspan x="3386" dy="20.2">getStateMachine()</tspan><tspan x="3386" dy="20.2">connectSignal()</tspan><tspan x="3386" dy="20.2">requiresClient()</tspan><tspan x="3386" dy="20.2">getComponents()</tspan><tspan x="3386" dy="20.2">iterateComponents()</tspan><tspan x="3386" dy="20.2">postEvent()</tspan><tspan x="3386" dy="20.2">postEvent()</tspan><tspan x="3386" dy="20.2">onComponentInitialization()</tspan><tspan x="3386" dy="20.2">onStateOrthogonalAllocation()</tspan><tspan x="3386" dy="20.2">createComponent()</tspan><tspan x="3386" dy="20.2">createNamedComponent()</tspan><tspan x="3386" dy="20.2">getNode()</tspan><tspan x="3386" dy="20.2">getLogger()</tspan><tspan x="3386" dy="20.2">initialize()</tspan><tspan x="3386" dy="20.2">setStateMachine()</tspan><tspan x="3386" dy="20.2">setOrthogonal()</tspan></text></g>

<!-- ISmaccComponent -->
<g id="n_comp"><rect class="b" x="3428" y="2538" width="216" height="414"/><path class="s" d="M3428,2561H3644M3428,2582H3644"/><text class="t c" x="3536" y="2553">smacc2::ISmaccComponent</text>
<text class="t" x="3434" y="2597">+<tspan x="3434" dy="20.2">+</tspan><tspan x="3434" dy="20.2">+</tspan><tspan x="3434" dy="20.2">#</tspan><tspan x="3434" dy="20.2">#</tspan><tspan x="3434" dy="20.2">#</tspan><tspan x="3434" dy="20.2">#</tspan><tspan x="3434" dy="20.2">#</tspan><tspan x="3434" dy="20.2">#</tspan><tspan x="3434" dy="20.2">#</tspan><tspan x="3434" dy="20.2">#</tspan><tspan x="3434" dy="20.2">#</tspan><tspan x="3434" dy="20.2">#</tspan><tspan x="3434" dy="20.2">#</tspan><tspan x="3434" dy="20.2">#</tspan><tspan x="3434" dy="20.2">#</tspan><tspan x="3434" dy="20.2">-</tspan><tspan x="3434" dy="20.2">-</tspan></text>
<text class="t" x="3447" y="2597">ISmaccComponent()<tspan x="3447" dy="20.2">~ISmaccComponent()</tspan><tspan x="3447" dy="20.2">getName()</tspan><tspan x="3447" dy="20.2">onInitialize()</tspan><tspan x="3447" dy="20.2">onComponentInitialization()</tspan><tspan x="3447" dy="20.2">postEvent()</tspan><tspan x="3447" dy="20.2">postEvent()</tspan><tspan x="3447" dy="20.2">onStateOrthogonalAllocation()</tspan><tspan x="3447" dy="20.2">requiresComponent()</tspan><tspan x="3447" dy="20.2">requiresComponent()</tspan><tspan x="3447" dy="20.2">requiresClient()</tspan><tspan x="3447" dy="20.2">createSiblingComponent()</tspan><tspan x="3447" dy="20.2">createSiblingNamedComponent()</tspan><tspan x="3447" dy="20.2">getNode()</tspan><tspan x="3447" dy="20.2">getLogger()</tspan><tspan x="3447" dy="20.2">getStateMachine()</tspan><tspan x="3447" dy="20.2">initialize()</tspan><tspan x="3447" dy="20.2">setStateMachine()</tspan></text></g>

<!-- SignalDetector -->
<g id="n_sd"><rect class="b" x="4719" y="1407" width="247" height="393"/><path class="s" d="M4719,1430H4966M4719,1451H4966"/><text class="t c" x="4842" y="1422">smacc2::SignalDetector</text>
<text class="t" x="4725" y="1466">+<tspan x="4725" dy="20.2">+</tspan><tspan x="4725" dy="20.2">+</tspan><tspan x="4725" dy="20.2">+</tspan><tspan x="4725" dy="20.2">+</tspan><tspan x="4725" dy="20.2">+</tspan><tspan x="4725" dy="20.2">+</tspan><tspan x="4725" dy="20.2">+</tspan><tspan x="4725" dy="20.2">+</tspan><tspan x="4725" dy="20.2">+</tspan><tspan x="4725" dy="20.2">+</tspan><tspan x="4725" dy="20.2">+</tspan><tspan x="4725" dy="20.2">+</tspan><tspan x="4725" dy="20.2">+</tspan><tspan x="4725" dy="20.2">-</tspan><tspan x="4725" dy="20.2">-</tspan><tspan x="4725" dy="20.2">-</tspan></text>
<text class="t" x="4738" y="1466">SignalDetector()<tspan x="4738" dy="20.2">initialize()</tspan><tspan x="4738" dy="20.2">setProcessorHandle()</tspan><tspan x="4738" dy="20.2">runThread()</tspan><tspan x="4738" dy="20.2">join()</tspan><tspan x="4738" dy="20.2">stop()</tspan><tspan x="4738" dy="20.2">terminateScheduler()</tspan><tspan x="4738" dy="20.2">pollingLoop()</tspan><tspan x="4738" dy="20.2">postEvent()</tspan><tspan x="4738" dy="20.2">getNode()</tspan><tspan x="4738" dy="20.2">getLogger()</tspan><tspan x="4738" dy="20.2">notifyStateConfigured()</tspan><tspan x="4738" dy="20.2">notifyStateExited()</tspan><tspan x="4738" dy="20.2">notifyRosInitialized()</tspan><tspan x="4738" dy="20.2">pollOnce()</tspan><tspan x="4738" dy="20.2">findUpdatableClientsAndComponents()</tspan><tspan x="4738" dy="20.2">findUpdatableStateElements()</tspan></text></g>

<!-- small boxes lower -->
<g id="n_optfut"><rect class="b" x="2203" y="2703" width="124" height="80"/><path class="s" d="M2203,2741H2327M2203,2762H2327"/><text class="t c" x="2265" y="2718">optional&lt; std::future<tspan x="2265" dy="15">&lt; int &gt; &gt;</tspan></text></g>
<g id="n_func"><rect class="b" x="2351" y="2713" width="108" height="63"/><path class="s" d="M2351,2736H2459M2351,2756H2459"/><text class="t c" x="2405" y="2728">function&lt; void()&gt;</text></g>
<g id="n_sigvoid"><rect class="b" x="2623" y="2703" width="140" height="80"/><path class="s" d="M2623,2741H2763M2623,2762H2763"/><text class="t c" x="2693" y="2718">smacc2::SmaccSignal<tspan x="2693" dy="15">&lt; void()&gt;</tspan></text></g>
<g id="n_uint8"><rect class="b" x="2816" y="2713" width="50" height="63"/><path class="s" d="M2816,2736H2866M2816,2756H2866"/><text class="t c" x="2841" y="2728">uint8_t</text></g>
<g id="n_optdur"><rect class="b" x="3001" y="2713" width="166" height="63"/><path class="s" d="M3001,2736H3167M3001,2756H3167"/><text class="t c" x="3084" y="2728">optional&lt; rclcpp::Duration &gt;</text></g>
<g id="n_opttime"><rect class="b" x="3257" y="2713" width="147" height="63"/><path class="s" d="M3257,2736H3404M3257,2756H3404"/><text class="t c" x="3330" y="2728">optional&lt; rclcpp::Time &gt;</text></g>
<g id="n_float"><rect class="b" x="3797" y="2710" width="34" height="66"/><path class="s" d="M3797,2733H3831M3797,2754H3831"/><text class="t c" x="3814" y="2725">float</text></g>
<g id="n_bool"><rect class="b" x="4142" y="2710" width="33" height="66"/><path class="s" d="M4142,2733H4175M4142,2754H4175"/><text class="t c" x="4158" y="2725">bool</text></g>
<g id="n_trajsp"><rect class="b" x="4307" y="3243" width="116" height="66"/><path class="s" d="M4307,3266H4423M4307,3287H4423"/><text class="t c" x="4365" y="3258">TrajectorySetpoint</text></g>
<g id="n_optms"><rect class="b" x="5725" y="3859" width="142" height="82"/><path class="s" d="M5725,3897H5867M5725,3918H5867"/><text class="t c" x="5796" y="3874">optional&lt; std::chrono<tspan x="5796" dy="15">::milliseconds &gt;</tspan></text></g>
<g id="n_opttp"><rect class="b" x="5882" y="3855" width="130" height="97"/><path class="s" d="M5882,3908H6012M5882,3929H6012"/><text class="t c" x="5947" y="3870">optional&lt; std::chrono<tspan x="5947" dy="15">::steady_clock::time</tspan><tspan x="5947" dy="15">_point &gt;</tspan></text></g>

<!-- SmaccAsyncClientBehavior -->
<g id="n_async"><rect class="b" x="2350" y="3072" width="200" height="408"/><path class="s" d="M2350,3110H2550M2350,3131H2550"/><text class="t c" x="2450" y="3087">smacc2::SmaccAsyncClient<tspan x="2450" dy="15">Behavior</tspan></text>
<text class="t" x="2356" y="3146">+<tspan x="2356" dy="20.2">+</tspan><tspan x="2356" dy="20.2">+</tspan><tspan x="2356" dy="20.2">+</tspan><tspan x="2356" dy="20.2">+</tspan><tspan x="2356" dy="20.2">+</tspan><tspan x="2356" dy="20.2">+</tspan><tspan x="2356" dy="20.2">+</tspan><tspan x="2356" dy="20.2">+</tspan><tspan x="2356" dy="20.2">+</tspan><tspan x="2356" dy="20.2">+</tspan><tspan x="2356" dy="20.2">+</tspan><tspan x="2356" dy="20.2">#</tspan><tspan x="2356" dy="20.2">#</tspan><tspan x="2356" dy="20.2">#</tspan><tspan x="2356" dy="20.2">#</tspan><tspan x="2356" dy="20.2">-</tspan></text>
<text class="t" x="2369" y="3146">onStateOrthogonalAllocation()<tspan x="2369" dy="20.2">~SmaccAsyncClientBehavior()</tspan><tspan x="2369" dy="20.2">onSuccess()</tspan><tspan x="2369" dy="20.2">onFinished()</tspan><tspan x="2369" dy="20.2">onFailure()</tspan><tspan x="2369" dy="20.2">requestForceFinish()</tspan><tspan x="2369" dy="20.2">executeOnEntry()</tspan><tspan x="2369" dy="20.2">executeOnExit()</tspan><tspan x="2369" dy="20.2">waitOnEntryThread()</tspan><tspan x="2369" dy="20.2">onSuccess()</tspan><tspan x="2369" dy="20.2">onFinished()</tspan><tspan x="2369" dy="20.2">onFailure()</tspan><tspan x="2369" dy="20.2">postSuccessEvent()</tspan><tspan x="2369" dy="20.2">postFailureEvent()</tspan><tspan x="2369" dy="20.2">dispose()</tspan><tspan x="2369" dy="20.2">isShutdownRequested()</tspan><tspan x="2369" dy="20.2">waitFutureIfNotFinished()</tspan></text></g>

<!-- CpVehicleStatus -->
<g id="n_vstatus"><rect class="b" x="2832" y="3171" width="173" height="212"/><path class="s" d="M2832,3194H3005M2832,3215H3005"/><text class="t c" x="2918" y="3186">cl_px4_mr::CpVehicleStatus</text>
<text class="t" x="2850" y="3230">+<tspan x="2850" dy="20.2">+</tspan><tspan x="2850" dy="20.2">+</tspan><tspan x="2850" dy="20.2">+</tspan><tspan x="2850" dy="20.2">+</tspan><tspan x="2850" dy="20.2">+</tspan><tspan x="2850" dy="20.2">+</tspan><tspan x="2850" dy="20.2">-</tspan></text>
<text class="t" x="2869" y="3230">CpVehicleStatus()<tspan x="2869" dy="20.2">~CpVehicleStatus()</tspan><tspan x="2869" dy="20.2">onInitialize()</tspan><tspan x="2869" dy="20.2">isArmed()</tspan><tspan x="2869" dy="20.2">isLanded()</tspan><tspan x="2869" dy="20.2">getNavState()</tspan><tspan x="2869" dy="20.2">getArmingState()</tspan><tspan x="2869" dy="20.2">onStatusMessage()</tspan></text></g>

<!-- ISmaccUpdatable -->
<g id="n_upd"><rect class="b" x="3251" y="3201" width="167" height="151"/><path class="s" d="M3251,3224H3418M3251,3245H3418"/><text class="t c" x="3334" y="3216">smacc2::ISmaccUpdatable</text>
<text class="t" x="3269" y="3260">+<tspan x="3269" dy="20.2">+</tspan><tspan x="3269" dy="20.2">+</tspan><tspan x="3269" dy="20.2">+</tspan><tspan x="3269" dy="20.2">#</tspan></text>
<text class="t" x="3288" y="3260">ISmaccUpdatable()<tspan x="3288" dy="20.2">ISmaccUpdatable()</tspan><tspan x="3288" dy="20.2">executeUpdate()</tspan><tspan x="3288" dy="20.2">setUpdatePeriod()</tspan><tspan x="3288" dy="20.2">update()</tspan></text></g>

<!-- CpVehicleCommand -->
<g id="n_vcmd"><rect class="b" x="3716" y="3151" width="193" height="252"/><path class="s" d="M3716,3174H3909M3716,3195H3909"/><text class="t c" x="3812" y="3166">cl_px4_mr::CpVehicleCommand</text>
<text class="t" x="3734" y="3210">+<tspan x="3734" dy="20.2">+</tspan><tspan x="3734" dy="20.2">+</tspan><tspan x="3734" dy="20.2">+</tspan><tspan x="3734" dy="20.2">+</tspan><tspan x="3734" dy="20.2">+</tspan><tspan x="3734" dy="20.2">+</tspan><tspan x="3734" dy="20.2">+</tspan><tspan x="3734" dy="20.2">+</tspan><tspan x="3734" dy="20.2">+</tspan></text>
<text class="t" x="3753" y="3210">CpVehicleCommand()<tspan x="3753" dy="20.2">~CpVehicleCommand()</tspan><tspan x="3753" dy="20.2">onInitialize()</tspan><tspan x="3753" dy="20.2">sendCommand()</tspan><tspan x="3753" dy="20.2">arm()</tspan><tspan x="3753" dy="20.2">forceArm()</tspan><tspan x="3753" dy="20.2">disarm()</tspan><tspan x="3753" dy="20.2">setOffboardMode()</tspan><tspan x="3753" dy="20.2">land()</tspan><tspan x="3753" dy="20.2">takeoff()</tspan></text></g>

<!-- CpVehicleLocalPosition -->
<g id="n_vlp"><rect class="b" x="3934" y="3153" width="176" height="247"/><path class="s" d="M3934,3191H4110M3934,3212H4110"/><text class="t c" x="4022" y="3168">cl_px4_mr::CpVehicleLocal<tspan x="4022" dy="15">Position</tspan></text>
<text class="t" x="3940" y="3227">+<tspan x="3940" dy="20.2">+</tspan><tspan x="3940" dy="20.2">+</tspan><tspan x="3940" dy="20.2">+</tspan><tspan x="3940" dy="20.2">+</tspan><tspan x="3940" dy="20.2">+</tspan><tspan x="3940" dy="20.2">+</tspan><tspan x="3940" dy="20.2">+</tspan><tspan x="3940" dy="20.2">-</tspan></text>
<text class="t" x="3953" y="3227">CpVehicleLocalPosition()<tspan x="3953" dy="20.2">~CpVehicleLocalPosition()</tspan><tspan x="3953" dy="20.2">onInitialize()</tspan><tspan x="3953" dy="20.2">getX()</tspan><tspan x="3953" dy="20.2">getY()</tspan><tspan x="3953" dy="20.2">getZ()</tspan><tspan x="3953" dy="20.2">getHeading()</tspan><tspan x="3953" dy="20.2">isValid()</tspan><tspan x="3953" dy="20.2">onPositionMessage()</tspan></text></g>

<!-- CpGoalChecker -->
<g id="n_goal"><rect class="b" x="3494" y="3542" width="166" height="191"/><path class="s" d="M3494,3565H3660M3494,3586H3660"/><text class="t c" x="3577" y="3557">cl_px4_mr::CpGoalChecker</text>
<text class="t" x="3512" y="3601">+<tspan x="3512" dy="20.2">+</tspan><tspan x="3512" dy="20.2">+</tspan><tspan x="3512" dy="20.2">+</tspan><tspan x="3512" dy="20.2">+</tspan><tspan x="3512" dy="20.2">+</tspan><tspan x="3512" dy="20.2">+</tspan></text>
<text class="t" x="3531" y="3601">CpGoalChecker()<tspan x="3531" dy="20.2">~CpGoalChecker()</tspan><tspan x="3531" dy="20.2">onInitialize()</tspan><tspan x="3531" dy="20.2">update()</tspan><tspan x="3531" dy="20.2">setGoal()</tspan><tspan x="3531" dy="20.2">clearGoal()</tspan><tspan x="3531" dy="20.2">isGoalActive()</tspan></text></g>

<!-- CpTrajectorySetpoint -->
<g id="n_traj"><rect class="b" x="4320" y="3542" width="196" height="191"/><path class="s" d="M4320,3565H4516M4320,3586H4516"/><text class="t c" x="4418" y="3557">cl_px4_mr::CpTrajectorySetpoint</text>
<text class="t" x="4338" y="3601">+<tspan x="4338" dy="20.2">+</tspan><tspan x="4338" dy="20.2">+</tspan><tspan x="4338" dy="20.2">+</tspan><tspan x="4338" dy="20.2">+</tspan><tspan x="4338" dy="20.2">+</tspan><tspan x="4338" dy="20.2">+</tspan></text>
<text class="t" x="4357" y="3601">CpTrajectorySetpoint()<tspan x="4357" dy="20.2">~CpTrajectorySetpoint()</tspan><tspan x="4357" dy="20.2">onInitialize()</tspan><tspan x="4357" dy="20.2">setPositionNED()</tspan><tspan x="4357" dy="20.2">hold()</tspan><tspan x="4357" dy="20.2">republishLast()</tspan><tspan x="4357" dy="20.2">getLastSetpoint()</tspan></text></g>

<!-- CpOffboardKeepAlive -->
<g id="n_keep"><rect class="b" x="4080" y="3793" width="170" height="206"/><path class="s" d="M4080,3831H4250M4080,3852H4250"/><text class="t c" x="4165" y="3808">cl_px4_mr::CpOffboardKeep<tspan x="4165" dy="15">Alive</tspan></text>
<text class="t" x="4086" y="3867">+<tspan x="4086" dy="20.2">+</tspan><tspan x="4086" dy="20.2">+</tspan><tspan x="4086" dy="20.2">+</tspan><tspan x="4086" dy="20.2">+</tspan><tspan x="4086" dy="20.2">+</tspan><tspan x="4086" dy="20.2">+</tspan></text>
<text class="t" x="4099" y="3867">CpOffboardKeepAlive()<tspan x="4099" dy="20.2">~CpOffboardKeepAlive()</tspan><tspan x="4099" dy="20.2">onInitialize()</tspan><tspan x="4099" dy="20.2">update()</tspan><tspan x="4099" dy="20.2">enable()</tspan><tspan x="4099" dy="20.2">disable()</tspan><tspan x="4099" dy="20.2">isEnabled()</tspan></text></g>

<!-- CbPx4ClientBehaviorBase -->
<g id="n_cbpx4"><rect class="g" x="3928" y="4060" width="229" height="191"/><path class="s" d="M3928,4083H4157M3928,4104H4157"/><text class="t c" x="4042" y="4075">cl_px4_mr::CbPx4ClientBehaviorBase</text>
<text class="t" x="3945" y="4119">+<tspan x="3945" dy="20.2">+</tspan><tspan x="3945" dy="20.2">+</tspan><tspan x="3945" dy="20.2">+</tspan><tspan x="3945" dy="20.2">#</tspan><tspan x="3945" dy="20.2">#</tspan><tspan x="3945" dy="20.2">#</tspan></text>
<text class="t" x="3963" y="4119">onStateOrthogonalAllocation()<tspan x="3963" dy="20.2">~CbPx4ClientBehaviorBase()</tspan><tspan x="3963" dy="20.2">setTimeout()</tspan><tspan x="3963" dy="20.2">update()</tspan><tspan x="3963" dy="20.2">wireCompletionSignals()</tspan><tspan x="3963" dy="20.2">postPx4Success()</tspan><tspan x="3963" dy="20.2">postPx4Failure()</tspan></text></g>
</svg>
